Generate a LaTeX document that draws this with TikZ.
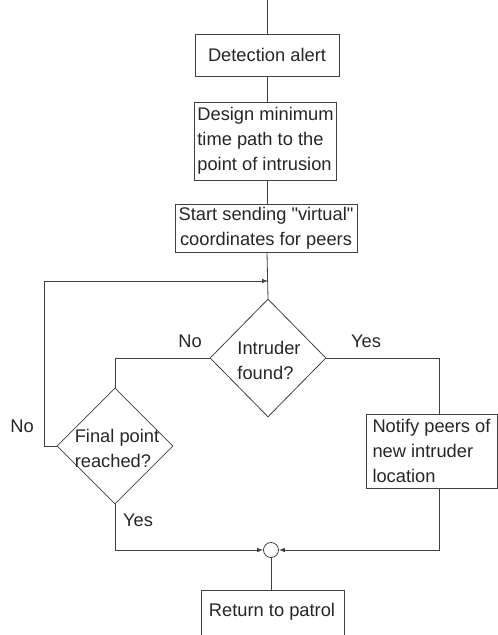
\documentclass[tikz,border=0pt]{standalone}
\usepackage{fontspec}
\newfontfamily\lsans{Liberation Sans}
\usetikzlibrary{shapes.geometric,arrows.meta}
\begin{document}
\begin{tikzpicture}[x=1pt,y=-1pt,
  every node/.style={font=\lsans\fontsize{18.3}{25}\selectfont, text=black!85},
  line/.style={draw=black!75, line width=0.8pt},
  box/.style={line, rectangle, inner sep=3pt},
  dia/.style={line, diamond, inner sep=0pt},
  arr/.style={line, -{Latex[length=6pt,width=4.5pt]}},
  lbl/.style={inner sep=0pt}]
\useasboundingbox (0,0) rectangle (498,635);
% nodes
\coordinate (topin) at (267,0);
\node[box, minimum width=144pt, minimum height=42pt] (det) at (267,55) {Detection alert};
\node[box, minimum width=142pt, minimum height=78pt, align=left] (design) at (265.5,141) {Design minimum\\time path to the\\point of intrusion};
\node[box, minimum width=182pt, minimum height=45pt, align=center] (start) at (266,228) {Start sending "virtual"\\coordinates for peers};
\node[dia, minimum width=116pt, minimum height=118pt] (intr) at (268,358) {};
\node[lbl, align=left] (intrt) at (269,360) {Intruder\\found?};
\node[dia, minimum width=116pt, minimum height=116pt] (fin) at (115,446) {};
\node[lbl, align=left] (fint) at (117,448) {Final point\\reached?};
\node[box, minimum width=131pt, minimum height=74pt, align=left] (notify) at (431.5,451) {Notify peers of\\new intruder\\location};
\node[line, circle, minimum size=15pt, inner sep=0pt] (circ) at (271,550) {};
\node[lbl] (ret) at (272,612) {Return to patrol};
\coordinate (rtop) at (271,590);
\coordinate (join) at (268,281);
\coordinate (nx) at (439,0);
\coordinate (lx) at (44,0);
% return box (open at bottom)
\draw[line] (201,635) -- (201,590) -- (344,590) -- (344,635);
% labels
\node[lbl] (lno1) at (190,341) {No};
\node[lbl] (lyes1) at (366,341) {Yes};
\node[lbl] (lno2) at (22,426) {No};
\node[lbl] (lyes2) at (138,520) {Yes};
% connectors
\draw[line] (topin) -- (det.north -| topin);
\draw[line] (det.south -| topin) -- (design.north -| topin);
\draw[line] (design.south -| topin) -- (start.north -| topin);
\draw[line] (start.south -| topin) -- (intr.north);
\draw[arr] (fin.west) -- (fin.west -| lx) |- (join);
\draw[line] (intr.west) -| (fin.north);
\draw[line] (intr.east) -| (notify.north -| nx);
\draw[arr] (notify.south -| nx) |- (circ.east);
\draw[arr] (fin.south) |- (circ.west);
\draw[line] (circ.south) -- (rtop);
\end{tikzpicture}
\end{document}
